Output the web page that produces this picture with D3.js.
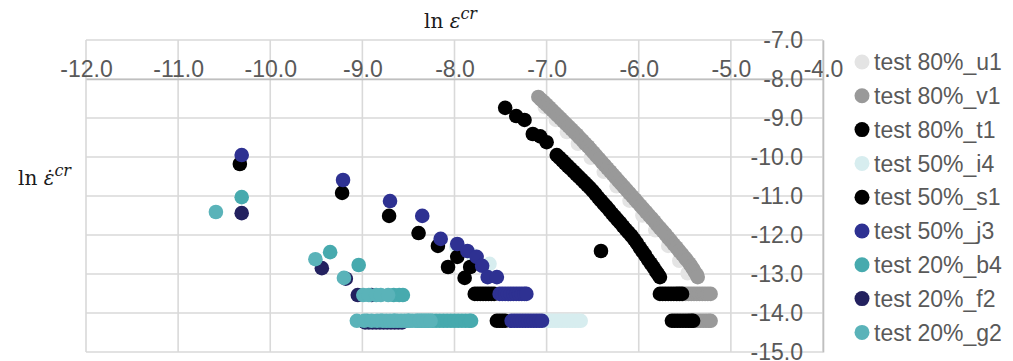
<!DOCTYPE html>
<html>
<head>
<meta charset="utf-8">
<script src="https://cdn.jsdelivr.net/npm/d3@7/dist/d3.min.js"></script>
<style>
  html, body { margin: 0; padding: 0; background: #fff; }
  svg { display: block; }
  .tick text, .legend text { font-family: "Liberation Sans", Arial, sans-serif; font-size: 23px; fill: #595959; }
  .title { font-family: "DejaVu Serif", "Liberation Serif", serif; font-size: 20px; fill: #1a1a1a; }
</style>
</head>
<body>
<svg id="chart" width="1013" height="361"></svg>
<script>
// ln(creep strain) vs ln(creep strain rate) for each test specimen
const seriesNames = ["test 80%_u1", "test 80%_v1", "test 80%_t1", "test 50%_i4", "test 50%_s1",
                     "test 50%_j3", "test 20%_b4", "test 20%_f2", "test 20%_g2"];
const seriesColors = ["#e4e4e4", "#999999", "#000000", "#d7edef", "#000000",
                      "#2e3192", "#47aaae", "#23215f", "#5ab3b9"];

const xTicks = [-12, -11, -10, -9, -8, -7, -6, -5, -4];
const yTicks = [-7, -8, -9, -10, -11, -12, -13, -14, -15];

const u1 = [[-7.02,-8.72],[-6.90,-9.05],[-6.78,-9.36],[-6.66,-9.66],[-6.52,-10.02],[-6.38,-10.38],
            [-6.24,-10.75],[-6.10,-11.12],[-5.96,-11.50],[-5.82,-11.88],[-5.68,-12.28],[-5.56,-12.66],
            [-5.47,-12.98]];

const v1 = [[-7.09,-8.46],[-7.06,-8.53],[-7.03,-8.59],[-7.00,-8.66],[-6.97,-8.73],[-6.94,-8.80],
            [-6.91,-8.87],[-6.88,-8.94],[-6.85,-9.01],[-6.82,-9.08],[-6.79,-9.15],[-6.76,-9.22],
            [-6.73,-9.29],[-6.70,-9.36],[-6.67,-9.43],[-6.64,-9.51],[-6.61,-9.58],[-6.58,-9.66],
            [-6.55,-9.73],[-6.52,-9.81],[-6.49,-9.89],[-6.46,-9.97],[-6.43,-10.05],[-6.40,-10.13],
            [-6.37,-10.21],[-6.34,-10.29],[-6.31,-10.37],[-6.28,-10.45],[-6.25,-10.53],[-6.22,-10.61],
            [-6.19,-10.69],[-6.16,-10.77],[-6.13,-10.85],[-6.10,-10.93],[-6.07,-11.01],[-6.04,-11.09],
            [-6.01,-11.17],[-5.98,-11.25],[-5.95,-11.33],[-5.92,-11.41],[-5.89,-11.49],[-5.86,-11.57],
            [-5.83,-11.65],[-5.80,-11.74],[-5.77,-11.82],[-5.74,-11.90],[-5.71,-11.98],[-5.68,-12.07],
            [-5.65,-12.15],[-5.62,-12.24],[-5.59,-12.32],[-5.56,-12.41],[-5.53,-12.49],[-5.50,-12.58],
            [-5.48,-12.64],[-5.45,-12.73],[-5.43,-12.80],[-5.41,-12.87],[-5.39,-12.95],[-5.37,-13.02],
            [-5.36,-13.08],
            [-5.58,-13.51],[-5.55,-13.51],[-5.52,-13.51],[-5.49,-13.51],[-5.46,-13.51],[-5.43,-13.51],
            [-5.40,-13.51],[-5.37,-13.51],[-5.34,-13.51],[-5.31,-13.51],[-5.28,-13.51],[-5.25,-13.51],[-5.22,-13.51],
            [-5.45,-14.20],[-5.42,-14.20],[-5.39,-14.20],[-5.36,-14.20],[-5.33,-14.20],[-5.30,-14.20],
            [-5.27,-14.20],[-5.24,-14.20],[-5.22,-14.20]];

const t1 = [[-7.45,-8.74],[-7.33,-8.95],[-7.24,-9.05],[-7.15,-9.41],[-7.07,-9.47],[-7.00,-9.62],
            [-6.89,-9.95],[-6.86,-10.02],[-6.83,-10.09],[-6.80,-10.16],[-6.77,-10.23],[-6.74,-10.30],
            [-6.71,-10.37],[-6.68,-10.44],[-6.65,-10.51],[-6.62,-10.58],[-6.59,-10.65],[-6.56,-10.72],
            [-6.53,-10.79],[-6.50,-10.87],[-6.47,-10.95],[-6.44,-11.04],[-6.41,-11.12],[-6.38,-11.20],
            [-6.35,-11.28],[-6.32,-11.36],[-6.29,-11.45],[-6.26,-11.53],[-6.23,-11.61],[-6.20,-11.69],
            [-6.17,-11.78],[-6.14,-11.86],[-6.11,-11.94],[-6.08,-12.02],[-6.05,-12.11],[-6.02,-12.21],
            [-5.99,-12.32],[-5.96,-12.42],[-5.93,-12.52],[-5.90,-12.63],[-5.87,-12.73],[-5.84,-12.83],
            [-5.81,-12.94],[-5.79,-13.01],[-5.77,-13.08],
            [-6.41,-12.41],
            [-5.77,-13.51],[-5.74,-13.51],[-5.71,-13.51],[-5.68,-13.51],[-5.65,-13.51],[-5.62,-13.51],
            [-5.59,-13.51],[-5.56,-13.51],[-5.53,-13.51],
            [-5.64,-14.20],[-5.61,-14.20],[-5.58,-14.20],[-5.55,-14.20],[-5.52,-14.20],[-5.49,-14.20],
            [-5.46,-14.20],[-5.43,-14.20],[-5.41,-14.20]];

const i4 = [[-7.98,-12.30],[-7.80,-12.52],[-7.62,-12.74],
            [-7.02,-14.20],[-6.99,-14.20],[-6.96,-14.20],[-6.93,-14.20],[-6.90,-14.20],[-6.87,-14.20],
            [-6.84,-14.20],[-6.81,-14.20],[-6.78,-14.20],[-6.75,-14.20],[-6.72,-14.20],[-6.69,-14.20],
            [-6.66,-14.20],[-6.63,-14.20]];

const s1 = [[-10.33,-10.18],[-9.22,-10.92],[-8.71,-11.51],[-8.39,-11.95],[-8.18,-12.28],[-7.97,-12.56],
            [-8.07,-12.82],[-7.83,-12.82],[-7.89,-13.10],
            [-7.78,-13.51],[-7.75,-13.51],[-7.72,-13.51],[-7.69,-13.51],[-7.66,-13.51],[-7.63,-13.51],
            [-7.60,-13.51],[-7.57,-13.51],
            [-7.54,-14.20],[-7.51,-14.20],[-7.48,-14.20],[-7.45,-14.20]];

const j3 = [[-10.31,-9.95],[-9.21,-10.59],[-8.70,-11.13],[-8.35,-11.51],[-8.15,-12.10],[-7.97,-12.23],
            [-7.86,-12.41],[-7.76,-12.56],[-7.70,-12.79],[-7.64,-13.08],[-7.54,-13.08],
            [-7.51,-13.51],[-7.48,-13.51],[-7.45,-13.51],[-7.42,-13.51],[-7.39,-13.51],[-7.36,-13.51],
            [-7.33,-13.51],[-7.30,-13.51],[-7.27,-13.51],[-7.24,-13.51],[-7.22,-13.51],
            [-7.38,-14.20],[-7.35,-14.20],[-7.32,-14.20],[-7.29,-14.20],[-7.26,-14.20],[-7.23,-14.20],
            [-7.20,-14.20],[-7.17,-14.20],[-7.14,-14.20],[-7.11,-14.20],[-7.08,-14.20],[-7.05,-14.20]];

const b4 = [[-10.31,-11.03],[-9.35,-12.44],[-9.04,-12.77],
            [-8.66,-13.54],[-8.60,-13.54],[-8.56,-13.54],
            [-8.95,-14.20],[-8.80,-14.20],[-8.65,-14.20],[-8.50,-14.20],[-8.40,-14.20],[-8.36,-14.20],
            [-8.32,-14.20],[-8.28,-14.20],[-8.24,-14.20],[-8.20,-14.20],[-8.16,-14.20],[-8.12,-14.20],
            [-8.08,-14.20],[-8.04,-14.20],[-8.00,-14.20],[-7.96,-14.20],[-7.92,-14.20],[-7.88,-14.20],
            [-7.84,-14.20],[-7.82,-14.20]];

const f2 = [[-10.31,-11.44],[-9.44,-12.85],[-9.18,-13.12],
            [-9.05,-13.54],[-8.90,-13.54],
            [-8.97,-14.24],[-8.93,-14.24],[-8.89,-14.24],[-8.85,-14.24],[-8.81,-14.24],[-8.77,-14.24],
            [-8.73,-14.24],[-8.69,-14.24],[-8.65,-14.24],[-8.61,-14.24],[-8.57,-14.24]];

const g2 = [[-10.59,-11.41],[-9.51,-12.62],[-9.20,-13.10],
            [-8.99,-13.54],[-8.93,-13.54],[-8.85,-13.54],[-8.80,-13.54],[-8.72,-13.54],
            [-9.06,-14.20],[-8.98,-14.20],[-8.90,-14.20],[-8.84,-14.20],[-8.78,-14.20],[-8.74,-14.20],
            [-8.70,-14.20],[-8.66,-14.20],[-8.62,-14.20],[-8.58,-14.20],[-8.54,-14.20],[-8.50,-14.20],
            [-8.46,-14.20],[-8.42,-14.20],[-8.38,-14.20],[-8.34,-14.20],[-8.30,-14.20],[-8.26,-14.20]];

const seriesData = [u1, v1, t1, i4, s1, j3, b4, f2, g2];

const svg = d3.select("#chart");
const x = d3.scaleLinear().domain([-12, -4]).range([86, 823]);
const y = d3.scaleLinear().domain([-7, -15]).range([40, 352]);
const fmt = d => d.toFixed(1);
const gridColor = "#d9d9d9";

// gridlines and plot frame
const grid = svg.append("g");
grid.selectAll("line.v").data(xTicks).join("line")
  .attr("x1", d => x(d)).attr("x2", d => x(d))
  .attr("y1", y(-7)).attr("y2", y(-15))
  .attr("stroke", gridColor).attr("stroke-width", 1.6);
grid.selectAll("line.h").data(yTicks).join("line")
  .attr("x1", x(-12)).attr("x2", x(-4))
  .attr("y1", d => y(d)).attr("y2", d => y(d))
  .attr("stroke", gridColor).attr("stroke-width", 1.6);

// markers, drawn in series order so later series sit on top
const r = 7.3;
seriesData.forEach((pts, i) => {
  svg.append("g").selectAll("circle").data(pts).join("circle")
    .attr("cx", d => x(d[0])).attr("cy", d => y(d[1])).attr("r", r)
    .attr("fill", seriesColors[i]);
});

// x axis crossing at ln ε̇ = -8, labels above
const xAxis = d3.axisTop(x).tickValues(xTicks).tickFormat(fmt).tickSize(0).tickPadding(2);
svg.append("g").attr("transform", `translate(0,${y(-8)})`).call(xAxis)
  .call(g => g.select(".domain").attr("stroke", "#bfbfbf").attr("stroke-width", 1.6));

// y axis crossing at ln ε = -4, labels to the left
const yAxis = d3.axisLeft(y).tickValues(yTicks).tickFormat(fmt).tickSize(0).tickPadding(20);
svg.append("g").attr("transform", `translate(${x(-4)},0)`).call(yAxis)
  .call(g => g.select(".domain").attr("stroke", "#bfbfbf").attr("stroke-width", 1.6));

svg.selectAll(".tick text").attr("font-family", null).attr("font-size", null).attr("fill", null);

// axis titles
const tx = svg.append("text").attr("class", "title").attr("x", 424).attr("y", 28);
tx.append("tspan").text("ln ");
tx.append("tspan").attr("font-style", "italic").text("ε");
tx.append("tspan").attr("font-style", "italic").attr("font-size", 16).attr("dy", -9).text("cr");

const ty = svg.append("text").attr("class", "title").attr("x", 18).attr("y", 185);
ty.append("tspan").text("ln ");
ty.append("tspan").attr("font-style", "italic").text("ε\u0307");
ty.append("tspan").attr("font-style", "italic").attr("font-size", 16).attr("dy", -9).text("cr");

// legend
const legend = svg.append("g").attr("class", "legend");
const rows = legend.selectAll("g").data(seriesNames).join("g")
  .attr("transform", (d, i) => `translate(862,${62 + i * 33.8})`);
rows.append("circle").attr("r", 7.5).attr("fill", (d, i) => seriesColors[i]);
rows.append("text").attr("x", 12).attr("dy", "0.36em").text(d => d);
</script>
</body>
</html>
